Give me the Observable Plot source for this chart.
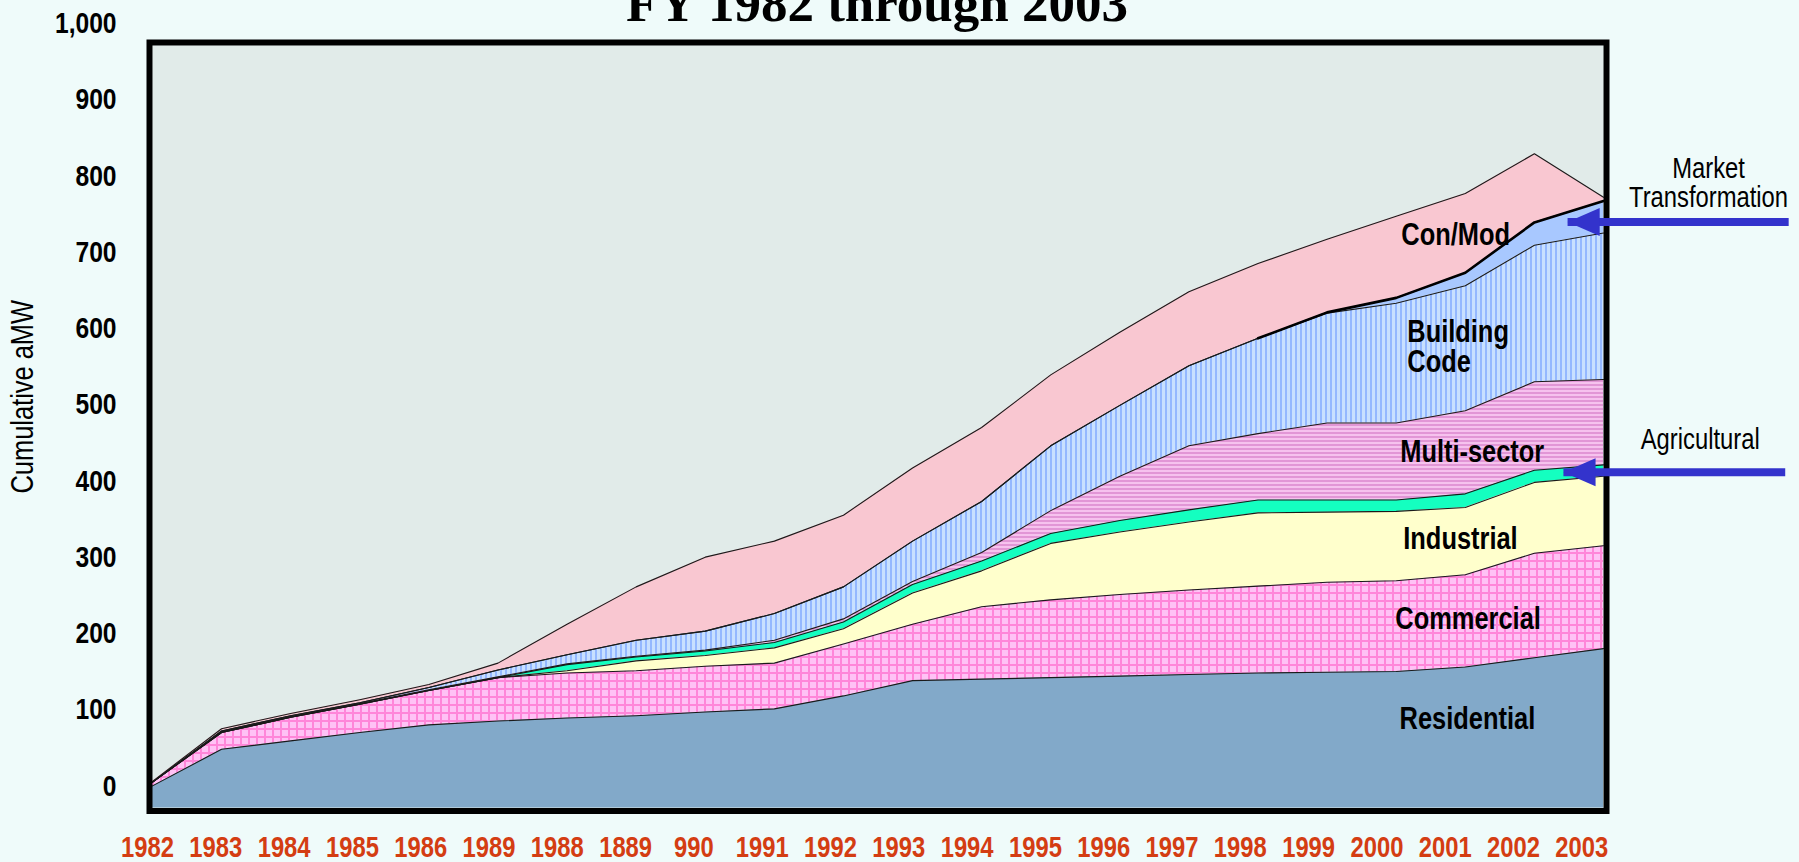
<!DOCTYPE html>
<html>
<head>
<meta charset="utf-8">
<script src="https://cdn.jsdelivr.net/npm/d3@7"></script>
<script src="https://cdn.jsdelivr.net/npm/@observablehq/plot@0.6"></script>
<style>
  html, body { margin: 0; padding: 0; background: #EFFBFA; overflow: hidden; }
  #wrap { position: relative; width: 1799px; height: 862px; }
  #chart { position: absolute; left: 0; top: 0; }
  #title { position: absolute; left: 0; width: 1754px; top: -23px; text-align: center;
           font: bold 53px "Liberation Serif", "Times New Roman", serif; line-height: 53px;
           color: #000; white-space: nowrap; }
</style>
</head>
<body>
<div id="wrap">
  <div id="chart"></div>
  <div id="title">FY 1982 through 2003</div>
</div>
<script>
// ---------- data ----------
const years = [1982, 1983, 1984, 1985, 1986, 1987, 1988, 1989, 1990, 1991, 1992,
               1993, 1994, 1995, 1996, 1997, 1998, 1999, 2000, 2001, 2002, 2003];
const xTickLabels = ["1982", "1983", "1984", "1985", "1986", "1989", "1988", "1889", "990", "1991", "1992",
                     "1993", "1994", "1995", "1996", "1997", "1998", "1999", "2000", "2001", "2002", "2003"];
const yTicks = [0, 100, 200, 300, 400, 500, 600, 700, 800, 900, 1000];

const seriesNames = ["Residential", "Commercial", "Industrial", "Agricultural",
                     "Multi-sector", "Building Code", "Market Transformation", "Con/Mod"];

const residential          = [29, 77, 88, 99, 109, 114, 118, 121, 126, 130, 147, 167, 169, 171, 173, 175, 177, 178, 179, 185, 197, 209];
const commercial           = [5, 22, 31, 37, 45, 57, 59, 59, 60, 60, 68, 74, 95, 102, 107, 111, 114, 118, 119, 121, 137, 135];
const industrial           = [0, 0, 0, 0, 0, 0, 3, 13, 14, 20, 20, 41, 47, 74, 82, 89, 96, 92, 91, 88, 93, 91];
const agricultural         = [0, 0, 0, 0, 0, 0, 8, 5, 6, 7, 9, 11, 13, 13, 15, 16, 17, 16, 15, 18, 16, 15];
const multiSector          = [0, 1, 1, 1, 1, 1, 1, 1, 1, 3, 4, 4, 11, 30, 58, 84, 87, 101, 101, 109, 116, 112];
const buildingCode         = [0, 1, 1, 1, 3, 9, 12, 21, 25, 35, 42, 53, 67, 85, 93, 105, 125, 144, 157, 164, 179, 192];
const marketTransformation = [0, 0, 0, 0, 0, 0, 0, 0, 0, 0, 0, 0, 0, 0, 0, 0, 0, 1, 7, 17, 30, 42];
const conMod               = [1, 3, 3, 4, 4, 9, 40, 70, 97, 95, 94, 96, 97, 93, 96, 97, 98, 96, 107, 104, 90, 5];

const seriesValues = [residential, commercial, industrial, agricultural,
                      multiSector, buildingCode, marketTransformation, conMod];

// annotation texts (data coordinates)
const areaLabels = [
  {text: "Con/Mod",      year: 2000.86, value: 751},
  {text: "Multi-sector", year: 2001.10, value: 467},
  {text: "Industrial",   year: 2000.93, value: 353},
  {text: "Commercial",   year: 2001.04, value: 248},
  {text: "Residential",  year: 2001.03, value: 116}
];
const codeLabel = [{text: "Building\nCode", year: 2000.16, value: 604}];
const sideLabels = [
  {text: "Market\nTransformation", year: 2004.52, value: 819},
  {text: "Agricultural",           year: 2004.40, value: 483}
];
const arrows = [
  {from: 2005.68, tip: 2002.48, value: 768.5},
  {from: 2005.63, tip: 2002.42, value: 440.4}
];

// ---------- styles ----------
const fills = ["#82A9C9", "url(#pat-commercial)", "#FFFFCC", "#14FFC0",
               "url(#pat-multi)", "url(#pat-code)", "#A8C8FF", "#F9C7D1"];
const sans = '"Liberation Sans", Arial, sans-serif';
const labelStretch = 0.9885;   // the hand-set year labels run slightly tighter than the data points

// ---------- table ----------
const rows = [];
seriesNames.forEach((s, k) => years.forEach((y, i) => rows.push({year: y, series: s, value: seriesValues[k][i]})));

const W = 1799, H = 862;
const stackOpts = {x: "year", y: "value", z: "series", order: seriesNames};

// left-pointing filled arrow head (centroid at origin)
const headSymbol = {
  draw(ctx, size) {
    const k = Math.sqrt(size);
    ctx.moveTo(-1.15 * k, 0);
    ctx.lineTo(0.575 * k, -0.75 * k);
    ctx.lineTo(0.575 * k, 0.75 * k);
    ctx.closePath();
  }
};

const chart = Plot.plot({
  width: W, height: H,
  marginLeft: 152, marginRight: W - 1603, marginTop: 45, marginBottom: H - 807.5,
  style: {background: "transparent", fontFamily: sans, overflow: "visible"},
  x: {domain: [1982, 2003], axis: null},
  y: {domain: [0, 1000], axis: null},
  color: {domain: seriesNames, range: fills},
  marks: [
    Plot.frame({fill: "#E1EBE9"}),
    Plot.areaY(rows, {...stackOpts, fill: "series"}),
    Plot.lineY(rows, Plot.stackY2({...stackOpts, stroke: "#1a1a1a", strokeWidth: 1.1})),
    Plot.lineY(rows, Plot.filter(d => d.series === "Market Transformation" && d.year >= 1998,
      Plot.stackY2({...stackOpts, stroke: "#000", strokeWidth: 2.6}))),
    Plot.frame({stroke: "#000", strokeWidth: 6, inset: -3}),
    // y tick labels
    Plot.text(yTicks, {y: d => d, frameAnchor: "left", text: d => d3.format(",")(d),
      textAnchor: "end", lineAnchor: "middle", dx: -36, dy: -22, fontSize: 30, fontWeight: "bold",
      fontFamily: sans, fill: "#000"}),
    // x tick labels
    Plot.text(years, {x: d => years[0] + (d - years[0]) * labelStretch, frameAnchor: "bottom",
      text: d => xTickLabels[years.indexOf(d)],
      lineAnchor: "middle", dx: -5, dy: 40, fontSize: 29, fontWeight: "bold", fontFamily: sans, fill: "#D43D12"}),
    // y axis title
    Plot.text(["Cumulative aMW"], {frameAnchor: "left", text: d => d, rotate: -90,
      textAnchor: "middle", lineAnchor: "middle", dx: -129, dy: -30, fontSize: 31,
      fontFamily: sans, fill: "#000"}),
    // in-area labels
    Plot.text(areaLabels, {x: "year", y: "value", text: "text", fontSize: 31, fontWeight: "bold",
      fontFamily: sans, fill: "#000"}),
    Plot.text(codeLabel, {x: "year", y: "value", text: "text", textAnchor: "start", lineHeight: 0.97,
      fontSize: 31, fontWeight: "bold", fontFamily: sans, fill: "#000"}),
    // side labels
    Plot.text(sideLabels, {x: "year", y: "value", text: "text", lineHeight: 0.97, fontSize: 29,
      fontFamily: sans, fill: "#000"}),
    // arrows
    Plot.link(arrows, {x1: "from", x2: "tip", y1: "value", y2: "value", stroke: "#3333CC",
      strokeWidth: 8, strokeLinecap: "butt"}),
    Plot.dot(arrows, {x: d => d.tip + 0.31, y: "value", symbol: headSymbol, r: 10.5,
      fill: "#3333CC", stroke: "none"})
  ]
});

d3.select(chart).insert("defs", ":first-child").html(`
  <pattern id="pat-commercial" patternUnits="userSpaceOnUse" width="8" height="8">
    <rect width="8" height="8" fill="#FFC2F5"></rect>
    <rect width="8" height="2" fill="#FF86D9"></rect>
    <rect width="2" height="8" fill="#FF86D9"></rect>
  </pattern>
  <pattern id="pat-multi" patternUnits="userSpaceOnUse" width="4" height="4">
    <rect width="4" height="4" fill="#F6C2EE"></rect>
    <rect width="4" height="2" fill="#E296D6"></rect>
  </pattern>
  <pattern id="pat-code" patternUnits="userSpaceOnUse" width="5" height="5">
    <rect width="5" height="5" fill="#C8E0FF"></rect>
    <rect width="2" height="5" fill="#94B8FF"></rect>
  </pattern>
`);

document.getElementById("chart").appendChild(chart);

// Arial-Narrow-like rendering: compress every chart text horizontally
const squeeze = 0.82;
chart.querySelectorAll("text").forEach(t => {
  const spans = t.querySelectorAll("tspan");
  const targets = spans.length ? Array.from(spans) : [t];
  targets.forEach(el => {
    const len = el.getComputedTextLength();
    if (len > 0) {
      el.setAttribute("textLength", (len * squeeze).toFixed(2));
      el.setAttribute("lengthAdjust", "spacingAndGlyphs");
    }
  });
});
</script>
</body>
</html>
